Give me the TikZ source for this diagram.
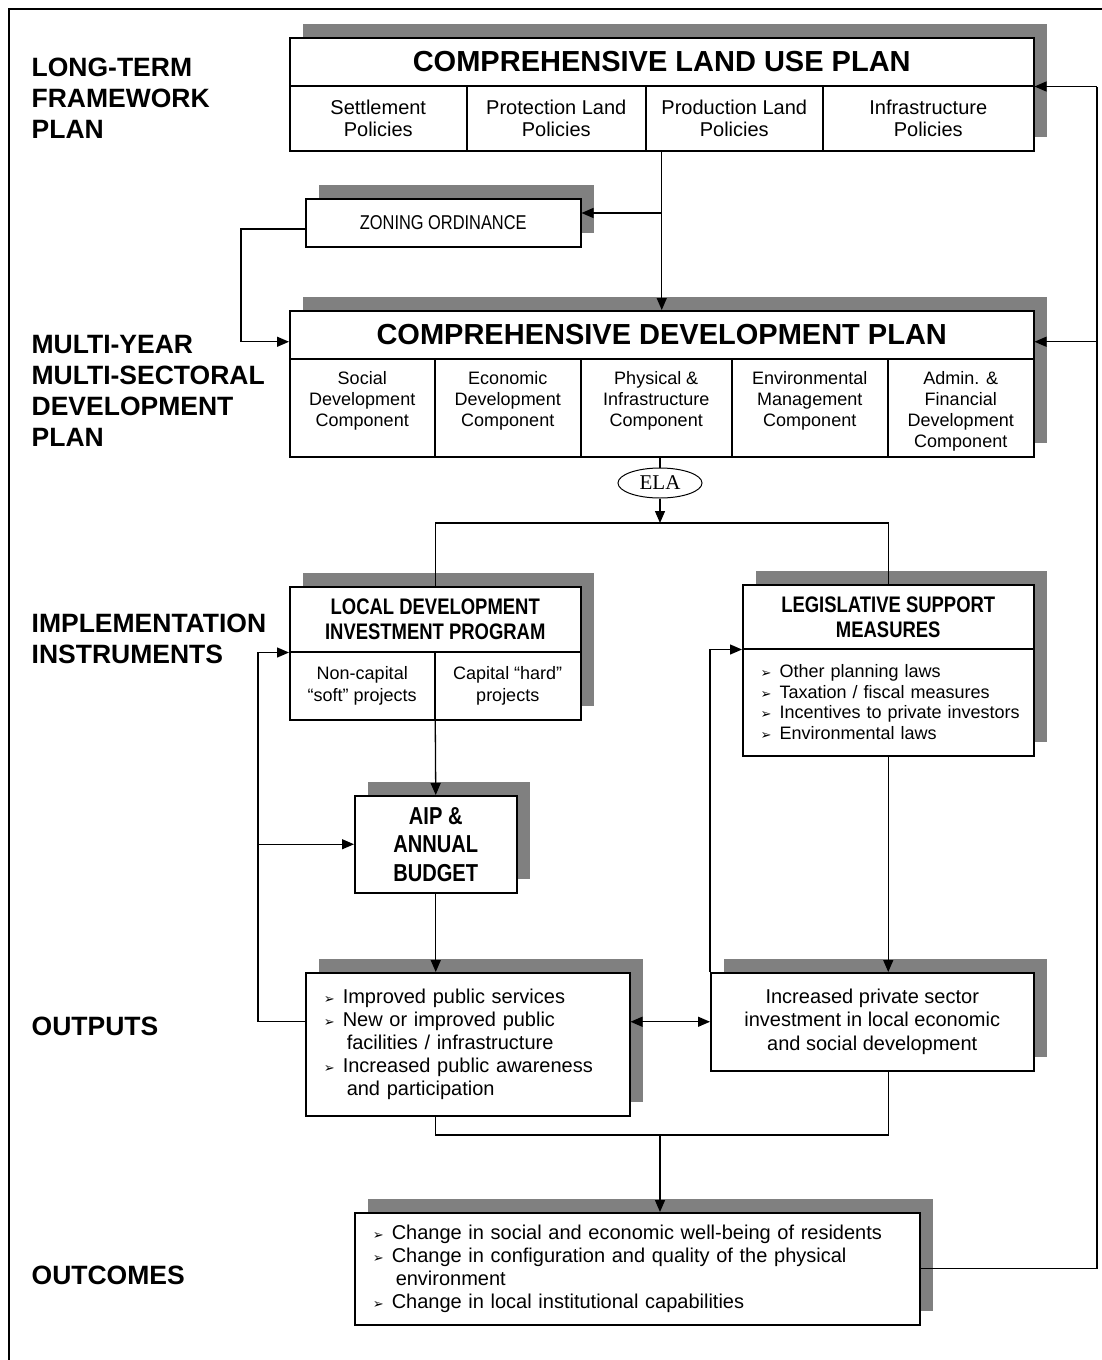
\documentclass[tikz,border=0pt]{standalone}
\usepackage{fontspec}
\setmainfont{Liberation Sans}
\newfontfamily\narrowfont[FakeStretch=0.82]{Liberation Sans}
\newfontfamily\elafont{Liberation Serif}
\newfontfamily\dingfont{DejaVu Sans}
\usepackage{tikz}
\usetikzlibrary{positioning,arrows.meta,shapes.geometric,shadows}

\definecolor{shadegray}{RGB}{128,128,128}
\newcommand{\fsz}[2]{\fontsize{#1}{#2}\selectfont}
\newcommand{\bul}{\makebox[19pt][l]{\dingfont\fsz{13}{13}➢}}
\newcommand{\ind}{\hspace*{23pt}}

\begin{document}
\begin{tikzpicture}[
    x=1pt, y=-1pt,
    line width=1.3pt,
    panel/.style={draw, fill=white, line width=1.5pt, inner sep=0pt, anchor=north west,
      general shadow={fill=shadegray, shadow xshift=13pt, shadow yshift=14pt}},
    cell/.style={draw, line width=1.5pt, inner sep=0pt, anchor=north west, align=center},
    lvl/.style={anchor=north west, align=left, inner sep=0pt, font=\fsz{26.5}{31}\bfseries},
    bigt/.style={font=\fsz{29}{34}\bfseries},
    hdt/.style={font=\narrowfont\fsz{22.5}{25}\bfseries},
    txt/.style={font=\fsz{20}{22.5}},
    sml/.style={font=\fsz{18}{20.8}},
    arr/.style={-{Triangle[length=12pt, width=10pt]}},
    darr/.style={{Triangle[length=12pt, width=10pt]}-{Triangle[length=12pt, width=10pt]}},
  ]
  \useasboundingbox (0,0) rectangle (1102,1360);
  \draw[line width=1.5pt] (9,1360) -- (9,9) -- (1102,9);

  % level labels down the left side
  \node[lvl] (lblLong) at (31,57) {LONG-TERM\\FRAMEWORK\\PLAN};
  \node[lvl] (lblMulti) at (31,335) {MULTI-YEAR\\MULTI-SECTORAL\\DEVELOPMENT\\PLAN};
  \node[lvl] (lblImpl) at (31,613) {IMPLEMENTATION\\INSTRUMENTS};
  \node[lvl] (lblOut) at (31,1016) {OUTPUTS};
  \node[lvl] (lblOutc) at (31,1265) {OUTCOMES};

  % land use plan
  \node[panel, minimum width=744pt, minimum height=113pt] (clup) at (289,37) {};
  \node[cell, bigt, minimum width=744pt, minimum height=48pt] (clupT) at (289,37) {COMPREHENSIVE LAND USE PLAN};
  \foreach \nm/\x/\w/\t in {settle/289/177/{Settlement\\Policies}, protect/466/179/{Protection Land\\Policies},
      produce/645/177/{Production Land\\Policies}, infra/822/211/{Infrastructure\\Policies}}
    \node[cell, txt, minimum width=\w pt, minimum height=65pt] (\nm) at (\x,85) {\t};

  % zoning
  \node[panel, font=\narrowfont\fsz{20}{22}, minimum width=275pt, minimum height=48pt] (zoning) at (305,198) {ZONING ORDINANCE};

  % development plan
  \node[panel, minimum width=744pt, minimum height=146pt] (cdp) at (289,310) {};
  \node[cell, bigt, minimum width=744pt, minimum height=48pt] (cdpT) at (289,310) {COMPREHENSIVE DEVELOPMENT PLAN};
  \foreach \nm/\x/\w/\t in {social/289/145/{Social\\Development\\Component}, econ/434/146/{Economic\\Development\\Component},
      phys/580/151/{Physical \&\\Infrastructure\\Component}, envi/731/156/{Environmental\\Management\\Component},
      admin/887/146/{Admin. \&\\Financial\\Development\\Component}}{
    \node[cell, minimum width=\w pt, minimum height=98pt] (\nm) at (\x,358) {};
    \node[sml, align=center, inner sep=0pt, below=13pt of \nm.north] (\nm-txt) {\t};
  }
  \coordinate (cdpIn) at ([yshift=-7pt]cdpT.west);
  \coordinate (cdpFb) at ([yshift=-7pt]cdpT.east);

  \node[draw, ellipse, line width=1pt, minimum width=84pt, minimum height=30pt, inner sep=0pt,
    font=\elafont\fsz{21}{21}] (ela) at (660,483) {ELA};
  \coordinate (split) at (660,523);

  % instruments
  \node[panel, minimum width=291pt, minimum height=133pt] (ldip) at (289,586) {};
  \node[cell, hdt, minimum width=291pt, minimum height=65pt] (ldipT) at (289,586) {LOCAL DEVELOPMENT\\INVESTMENT PROGRAM};
  \node[cell, font=\fsz{18}{22}, minimum width=145pt, minimum height=68pt] (soft) at (289,651) {Non-capital\\“soft” projects};
  \node[cell, font=\fsz{18}{22}, minimum width=146pt, minimum height=68pt] (hard) at (434,651) {Capital “hard”\\projects};

  \node[panel, font=\narrowfont\fsz{24.5}{28.5}\bfseries, align=center, minimum width=162pt, minimum height=97pt] (aip) at (354,795) {AIP \&\\ANNUAL\\BUDGET};

  \node[panel, minimum width=291pt, minimum height=171pt] (lsm) at (742,584) {};
  \node[cell, hdt, minimum width=291pt, minimum height=64pt] (lsmT) at (742,584) {LEGISLATIVE SUPPORT\\MEASURES};
  \node[anchor=north west, sml, align=left, text width=270pt, inner xsep=18pt, inner ysep=0pt, minimum height=107pt] (lsmB) at (742,648)
    {\bul Other planning laws\\ \bul Taxation / fiscal measures\\ \bul Incentives to private investors\\ \bul Environmental laws};

  % outputs and outcomes
  \node[panel, font=\fsz{20}{23}, align=left, text width=288pt, inner xsep=18pt, minimum height=143pt] (outputs) at (305,972)
    {\bul Improved public services\\ \bul New or improved public\\ \ind facilities / infrastructure\\ \bul Increased public awareness\\ \ind and participation};
  \node[panel, font=\fsz{20}{23.5}, align=center, minimum width=323pt, minimum height=98pt] (private) at (710,972)
    {Increased private sector\\investment in local economic\\and social development};
  \node[panel, font=\fsz{20}{23}, align=left, text width=529pt, inner xsep=18pt, minimum height=112pt] (outcomes) at (354,1212)
    {\bul Change in social and economic well-being of residents\\ \bul Change in configuration and quality of the physical\\ \ind environment\\ \bul Change in local institutional capabilities};
  \coordinate (merge) at (660,1135);

  % connectors
  \draw[arr] (clup.south) -- (clup.south |- cdp.north);
  \draw[arr] (clup.south |- 0,213) -- (zoning.east |- 0,213);
  \coordinate (zoneX) at (241,0);
  \draw[arr] (zoning.west |- 0,229) -| (zoneX |- cdpIn) -- (cdpIn);
  \draw (ela.north |- cdp.south) -- (ela.north);
  \draw[arr] (ela.south) -- (split);
  \draw (ldip.north) -- (ldip.north |- split) -- (lsm.north |- split) -- (lsm.north);
  \draw[arr] (ldip.south) -- (aip.north);
  \draw[arr] (aip.south) -- (aip.south |- outputs.north);
  \coordinate (backX) at (258,0);
  \draw[arr] (outputs.west |- private.west) -| (backX |- ldipT.south west) -- (ldipT.south west);
  \draw[arr] (backX |- aip.west) -- (aip.west);
  \draw[arr] (lsm.south) -- (lsm.south |- private.north);
  \draw[arr] (private.north west) -- (private.north west |- lsmT.south west) -- (lsmT.south west);
  \draw[darr] (outputs.east |- private.west) -- (private.west);
  \draw (aip.south |- outputs.south) |- (merge) -| (lsm.south |- private.south);
  \draw[arr] (merge) -- (merge |- outcomes.north);
  \coordinate (fbX) at (1097,0);
  \draw (outcomes.east) -- (fbX |- outcomes.east);
  \draw[line width=2.4pt] (fbX |- outcomes.east) -- (fbX |- clupT.south);
  \draw[arr] (fbX |- clupT.south) -- (clupT.south east);
  \draw[arr] (fbX |- cdpFb) -- (cdpFb);
\end{tikzpicture}
\end{document}
